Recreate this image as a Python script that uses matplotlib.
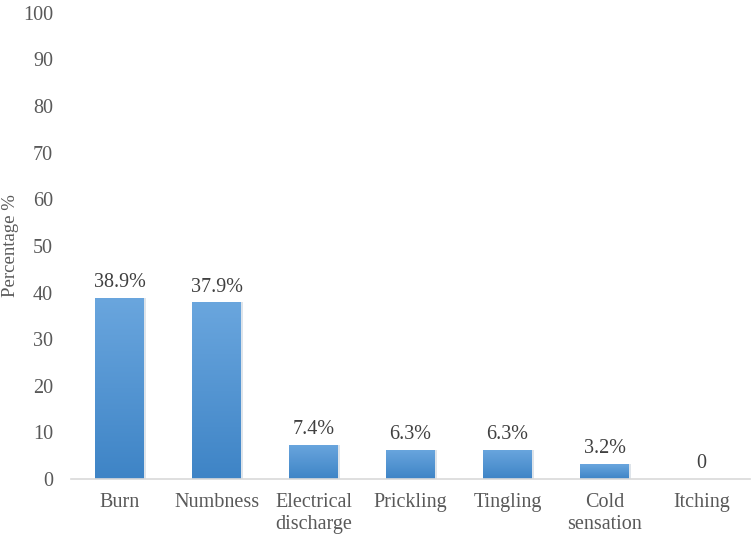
import numpy as np
import matplotlib.pyplot as plt
from matplotlib.colors import LinearSegmentedColormap

categories = ["Burn", "Numbness", "Electrical\ndischarge", "Prickling",
              "Tingling", "Cold\nsensation", "Itching"]
values = [38.9, 37.9, 7.4, 6.3, 6.3, 3.2, 0]
labels = ["38.9%", "37.9%", "7.4%", "6.3%", "6.3%", "3.2%", "0"]

plt.rcParams["font.family"] = ["Liberation Serif", "DejaVu Serif"]
grey = "#595959"

fig = plt.figure(figsize=(7.52, 5.37), dpi=100)
ax = fig.add_axes([0.0944, 0.108, 0.903, 0.868])

x = np.arange(len(categories))
bars = ax.bar(x, values, width=0.5, color="none", zorder=2)

cmap = LinearSegmentedColormap.from_list("blu", ["#3e84c6", "#6aa6de"])
grad = np.linspace(0, 1, 256).reshape(-1, 1)
for b in bars:
    if b.get_height() <= 0:
        continue
    x0, w, h = b.get_x(), b.get_width(), b.get_height()
    # soft shadow
    ax.bar(x0 + w / 2 + 0.012, h, width=w + 0.02, color="#c9d3dd",
           alpha=0.6, zorder=1)
    im = ax.imshow(grad, cmap=cmap, origin="lower", aspect="auto",
                   extent=[x0, x0 + w, 0, h], zorder=2)
    im.set_clip_path(b)

for xi, v, lab in zip(x, values, labels):
    ax.text(xi, v + 1.2, lab, ha="center", va="bottom", fontsize=14.5,
            color="#404040")

ax.set_xlim(-0.5, len(categories) - 0.5)
ax.set_ylim(0, 100)
ax.set_yticks(range(0, 101, 10))
ax.set_xticks(x)
ax.set_xticklabels(categories, fontsize=14.5, color=grey, linespacing=1.25)
ax.tick_params(axis="y", length=0, pad=13, labelsize=14.5, labelcolor=grey)
ax.tick_params(axis="x", length=0, pad=10)
for s in ["top", "right", "left"]:
    ax.spines[s].set_visible(False)
ax.spines["bottom"].set_color("#d9d9d9")
ax.spines["bottom"].set_linewidth(1.2)
ax.set_ylabel("Percentage %", fontsize=13.5, color=grey)
ax.yaxis.set_label_coords(-0.077, 0.5)

fig.savefig("out.png", dpi=100)
